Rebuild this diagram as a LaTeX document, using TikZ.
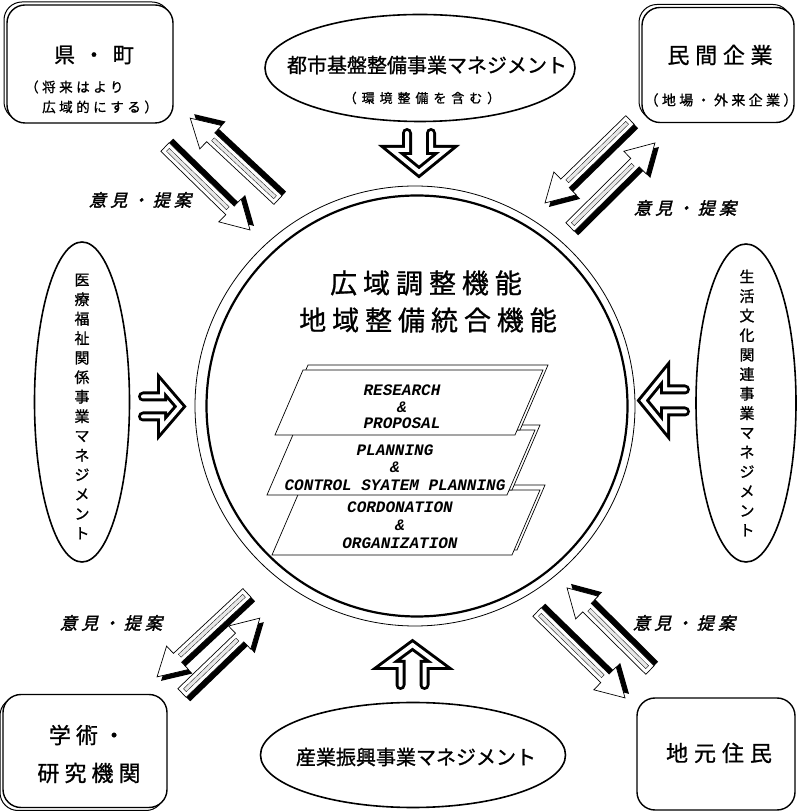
\documentclass[tikz,border=0pt]{standalone}
\usepackage{fontspec}
\setmainfont{Liberation Serif}
\newfontfamily\jp[FakeBold=1]{Noto Sans CJK JP}
\newfontfamily\jpit[FakeBold=2,FakeSlant=0.25]{Noto Sans CJK JP}
\newfontfamily\engit{Liberation Mono}
\usetikzlibrary{shapes.geometric}
\newcommand{\lsp}[1]{\addfontfeature{LetterSpace=#1}}
\newcommand{\fsz}[1]{\fontsize{#1}{#1}\selectfont}
% block arrow with black shadow: tail x, tail y, angle, length, shadow dx, shadow dy
\newcommand{\barrow}[6]{%
  \begin{scope}[shift={({#1+(#5)},{#2+(#6)})},rotate=#3]
    \fill[black] (0,-6) -- ({#4-28},-6) -- ({#4-28},-16) -- (#4,0) -- ({#4-28},16) -- ({#4-28},6) -- (0,6) -- cycle;
  \end{scope}
  \begin{scope}[shift={(#1,#2)},rotate=#3]
    \filldraw[fill=white,line width=0.7pt,line join=miter] (0,-6) -- ({#4-28},-6) -- ({#4-28},-16) -- (#4,0) -- ({#4-28},16) -- ({#4-28},6) -- (0,6) -- cycle;
    \draw[line width=0.3pt,fill=gray!18] (4,-2) rectangle ({#4-31},2);
  \end{scope}}
% outline arrow: tail x, tail y, angle, length, head length, head half width, shaft half width
\newcommand{\oarrow}[7]{%
  \begin{scope}[shift={(#1,#2)},rotate=#3]
    \draw[line width=10pt,line cap=round,line join=miter] (0,#7) -- ({#4-#5},#7) -- ({#4-#5},#6) -- (#4,0) -- ({#4-#5},-#6) -- ({#4-#5},-#7) -- (0,-#7);
    \draw[white,line width=4pt,line cap=round,line join=miter] (0,#7) -- ({#4-#5},#7) -- ({#4-#5},#6) -- (#4,0) -- ({#4-#5},-#6) -- ({#4-#5},-#7) -- (0,-#7);
  \end{scope}}
% layer parallelogram with back copy: bottom-left x, y
\newcommand{\layer}[2]{%
  \filldraw[fill=white,line width=0.7pt] ({#1+5},{#2+5}) -- ++(240,0) -- ++(28,65) -- ++(-240,0) -- cycle;
  \filldraw[fill=white,line width=0.7pt] (#1,#2) -- ++(240,0) -- ++(28,65) -- ++(-240,0) -- cycle;}
\tikzset{
  boxst/.style={draw,line width=1.4pt,rounded corners=18pt,fill=white,inner sep=0pt},
  boxsh/.style={draw,line width=1.0pt,rounded corners=18pt,inner sep=0pt},
  ellst/.style={draw,ellipse,line width=1.6pt,inner sep=0pt,fill=white},
  jt/.style={inner sep=0pt},
  eng/.style={inner sep=0pt,font=\engit\bfseries\itshape\fsz{16}},
  opin/.style={inner sep=0pt,font=\jpit\fsz{17}\lsp{25}},
}
\begin{document}
\begin{tikzpicture}[x=1pt,y=1pt]
\useasboundingbox (0,0) rectangle (796,811);
% central circle
\node[draw,circle,line width=0.8pt,minimum size=440pt,inner sep=0pt] (outerc) at (415,405) {};
\node[draw,circle,line width=2.2pt,minimum size=421pt,inner sep=0pt] (innerc) at (417,405) {};
\node[jt,font=\jp\fsz{27}\lsp{22}] (t1) at (426,528) {広域調整機能};
\node[jt,font=\jp\fsz{27}\lsp{22}] (t2) at (428,491) {地域整備統合機能};
% layers
\layer{272}{256}
\layer{267}{316}
\layer{275}{376}
\node[eng] (r1) at (402,421) {RESEARCH};
\node[eng] (r2) at (402,404) {\&};
\node[eng] (r3) at (402,388) {PROPOSAL};
\node[eng] (p1) at (395,361) {PLANNING};
\node[eng] (p2) at (395,344) {\&};
\node[eng] (p3) at (395,326) {CONTROL SYATEM PLANNING};
\node[eng] (c1) at (400,304) {CORDONATION};
\node[eng] (c2) at (400,286) {\&};
\node[eng] (c3) at (400,268) {ORGANIZATION};
% corner boxes
\node[boxsh,minimum width=166pt,minimum height=118pt] (kensh) at (87,750) {};
\node[boxst,minimum width=166pt,minimum height=118pt] (ken) at (90,747) {};
\node[jt,font=\jp\fsz{21}\lsp{40}] (kent) at (94,756) {県・町};
\node[jt,anchor=west,font=\jp\fsz{13.5}\lsp{26}] (kent2) at (25,724) {（将来はより};
\node[jt,anchor=west,font=\jp\fsz{13.5}\lsp{26}] (kent3) at (42,704) {広域的にする）};
\node[boxsh,minimum width=152pt,minimum height=115pt] (minsh) at (715,749) {};
\node[boxst,minimum width=152pt,minimum height=115pt] (min) at (718,746) {};
\node[jt,font=\jp\fsz{22}\lsp{26}] (mint) at (720,756) {民間企業};
\node[jt,font=\jp\fsz{14}\lsp{24}] (mint2) at (721,711) {（地場・外来企業）};
\node[boxsh,minimum width=164pt,minimum height=113pt] (gakush) at (82,57) {};
\node[boxst,minimum width=164pt,minimum height=113pt] (gaku) at (85,60) {};
\node[jt,font=\jp\fsz{22}\lsp{23}] (gakut) at (87,76) {学術・};
\node[jt,font=\jp\fsz{22}\lsp{23}] (gakut2) at (89,38) {研究機関};
\node[boxst,minimum width=158pt,minimum height=112pt] (jimo) at (716,57) {};
\node[jt,font=\jp\fsz{22}\lsp{27}] (jimot) at (719,58) {地元住民};
% ellipses
\node[ellst,minimum width=310pt,minimum height=107pt] (toshi) at (420,743) {};
\node[jt,font=\jp\fsz{20}] (toshit) at (427,746) {都市基盤整備事業マネジメント};
\node[jt,font=\jp\fsz{13}\lsp{38}] (toshit2) at (422,713) {（環境整備を含む）};
\node[ellst,minimum width=305pt,minimum height=105pt] (sangyo) at (413,56) {};
\node[jt,font=\jp\fsz{20}] (sangyot) at (416,54) {産業振興事業マネジメント};
\node[ellst,minimum width=95pt,minimum height=320pt] (iryo) at (82,409) {};
\node[jt,font=\jp\fontsize{15}{19.5}\selectfont,align=center] (iryot) at (82,404.5) {医\\療\\福\\祉\\関\\係\\事\\業\\マ\\ネ\\ジ\\メ\\ン\\ト};
\node[ellst,minimum width=100pt,minimum height=318pt] (seikatsu) at (746,408) {};
\node[jt,font=\jp\fontsize{15}{19.5}\selectfont,align=center] (seikatsut) at (747,408) {生\\活\\文\\化\\関\\連\\事\\業\\マ\\ネ\\ジ\\メ\\ン\\ト};
% outline arrows
\oarrow{419}{678}{-90}{39}{22}{27}{12}
\oarrow{412.5}{126}{90}{40}{20}{27}{12}
\oarrow{143}{404.5}{0}{37}{18}{21}{10}
\oarrow{685}{410.5}{180}{42}{22}{27}{11}
% block arrow pairs
\barrow{278}{611}{137.0}{120}{4}{4}
\barrow{165}{664}{-44.3}{118.8}{4}{4}
\barrow{630}{691}{-135.7}{118.8}{4}{-4}
\barrow{570}{584}{44.7}{119.5}{4}{-4}
\barrow{247}{218}{-137.0}{123}{4}{-4}
\barrow{182}{118}{43.9}{108}{4}{-4}
\barrow{650}{141}{135.3}{116.7}{4}{4}
\barrow{537}{199}{-44.3}{123}{4}{4}
% opinion labels
\node[opin] (op1) at (140,611) {意見・提案};
\node[opin] (op2) at (685,603) {意見・提案};
\node[opin] (op3) at (111,188) {意見・提案};
\node[opin] (op4) at (684,188) {意見・提案};
\end{tikzpicture}
\end{document}
